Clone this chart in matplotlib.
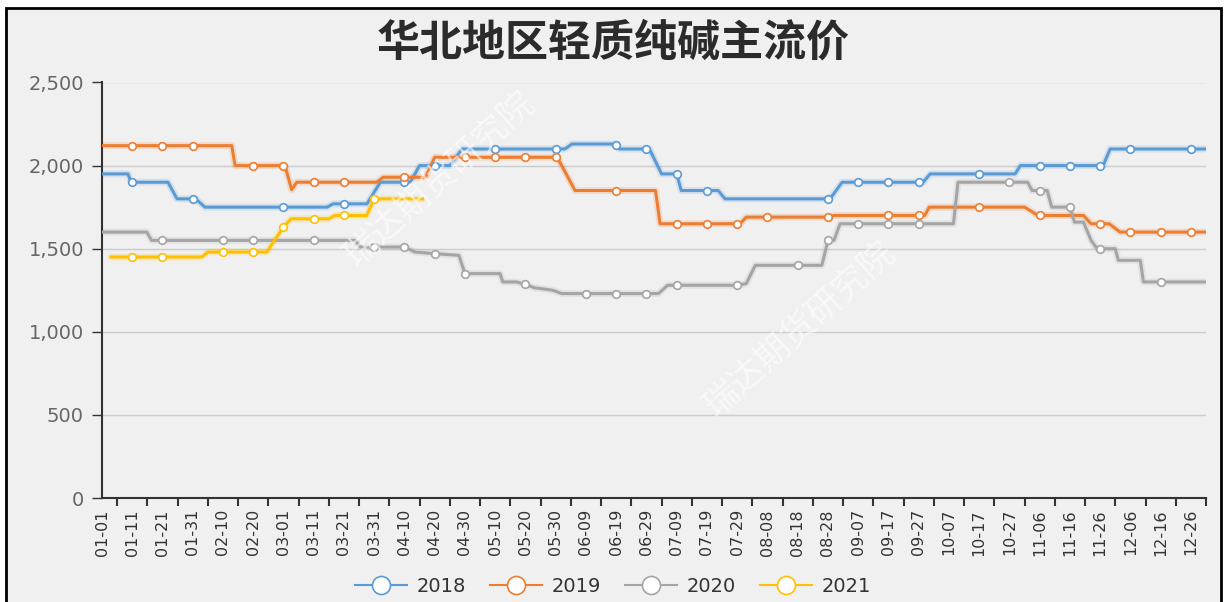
import matplotlib.pyplot as plt
from matplotlib.lines import Line2D
from matplotlib.ticker import FuncFormatter
import numpy as np
import datetime

plt.rcParams['font.family'] = ['Noto Sans CJK SC', 'DejaVu Sans']

# day-of-year index (leap-year calendar, 0 = 01-01) -> price, vertices of each line
days_2018 = [0, 8.6, 9.6, 21.8, 24.8, 31, 34, 74.4, 76.4, 87.6, 92, 101.9, 105, 115, 119, 153,
             155.4, 169.6, 171, 181, 185, 190, 191.5, 203.7, 206, 240.7, 244.7, 271.5, 273.8,
             301.9, 303.6, 331, 333.3, 365]
vals_2018 = [1950, 1950, 1900, 1900, 1800, 1800, 1750, 1750, 1770, 1770, 1900, 1900, 2000, 2000,
             2100, 2100, 2130, 2130, 2100, 2100, 1950, 1950, 1850, 1850, 1800, 1800, 1900, 1900,
             1950, 1950, 2000, 2000, 2100, 2100]
marks_2018 = [10, 30, 60, 80, 100, 110, 130, 150, 170, 180, 190, 200, 240, 250, 260, 270, 290,
              310, 320, 330, 340, 360]

days_2019 = [0, 42.9, 44, 60.5, 62.7, 64.4, 90.8, 93, 107, 110, 150.5, 156.4, 183, 184.5, 211,
             213, 240.7, 242, 272, 273.5, 305, 309.5, 324.5, 327, 333, 336.6, 365]
vals_2019 = [2120, 2120, 2000, 2000, 1855, 1900, 1900, 1930, 1930, 2050, 2050, 1850, 1850, 1650,
             1650, 1690, 1690, 1700, 1700, 1750, 1750, 1700, 1700, 1650, 1650, 1600, 1600]
marks_2019 = [10, 20, 30, 50, 60, 70, 80, 100, 120, 130, 140, 150, 170, 190, 200, 210, 220, 240,
              260, 270, 290, 310, 330, 340, 350, 360]

days_2020 = [0, 14.8, 16.4, 83.7, 85.4, 100, 103.5, 110, 118, 120, 131.6, 132.5, 137, 140, 143,
             149, 152, 184, 187, 210, 213, 216, 238, 240, 242, 244, 281.5, 283, 306, 307.5, 312.5,
             314, 320, 321.5, 324.5, 327, 329, 335, 336, 343.3, 344.3, 365]
vals_2020 = [1600, 1600, 1550, 1550, 1510, 1510, 1480, 1470, 1460, 1350, 1350, 1300, 1300, 1285,
             1265, 1250, 1230, 1230, 1280, 1280, 1290, 1400, 1400, 1550, 1550, 1650, 1650, 1900,
             1900, 1850, 1850, 1750, 1750, 1660, 1660, 1550, 1500, 1500, 1430, 1430, 1300, 1300]
marks_2020 = [20, 40, 50, 70, 90, 100, 110, 120, 140, 160, 170, 180, 190, 210, 230, 240, 250,
              260, 270, 300, 310, 320, 330, 350]

days_2021 = [3, 33, 35, 54.5, 57, 60, 62.5, 75, 77, 87.5, 90, 106]
vals_2021 = [1450, 1450, 1480, 1480, 1550, 1630, 1680, 1680, 1700, 1700, 1800, 1800]
marks_2021 = [10, 20, 40, 50, 60, 70, 80, 90]

series = [
    ("2018", days_2018, vals_2018, marks_2018, "#5b9bd5"),
    ("2019", days_2019, vals_2019, marks_2019, "#ed7d31"),
    ("2020", days_2020, vals_2020, marks_2020, "#a5a5a5"),
    ("2021", days_2021, vals_2021, marks_2021, "#ffc000"),
]

# category labels every 10 days
start = datetime.date(2020, 1, 1)
label_pos = list(range(0, 366, 10))
label_txt = [(start + datetime.timedelta(days=d)).strftime("%m-%d") for d in label_pos]

fig = plt.figure(figsize=(12.26, 6.02), dpi=100)
fig.patch.set_facecolor("white")
# grey card with black frame
fig.patches.append(plt.Rectangle((6 / 1226, -0.01), 1215 / 1226, 1 - 8 / 602 + 0.01,
                                 transform=fig.transFigure, facecolor="#f0f0f0",
                                 edgecolor="black", linewidth=2, zorder=-5))

ax = fig.add_axes([102 / 1226, 104 / 602, 1104 / 1226, 415.5 / 602])
ax.patch.set_alpha(0)

for name, d, v, m, c in series:
    ax.plot(d, v, color=c, lw=5, alpha=0.18, solid_capstyle="round", zorder=2)
    ax.plot(d, v, color=c, lw=2.2, zorder=3)
    my = np.interp(m, d, v)
    ax.plot(m, my, ls="none", marker="o", ms=5.5, mfc="white", mec=c, mew=1.2, zorder=4)

ax.set_xlim(0, 365)
ax.set_ylim(0, 2500)
ax.set_yticks(range(0, 2501, 500))
ax.yaxis.set_major_formatter(FuncFormatter(lambda x, p: f"{int(x):,}"))
ax.grid(axis="y", color="#cccccc", lw=1)
ax.set_axisbelow(True)

ax.set_xticks(label_pos)
ax.set_xticklabels(label_txt, rotation=90, fontsize=11.5, color="#333333",
                   family="DejaVu Sans")
ax.set_xticks([5 + 10 * k for k in range(37)], minor=True)
ax.tick_params(axis="x", which="major", length=0, pad=8)
ax.tick_params(axis="x", which="minor", length=6, width=1.5, color="#333333")
ax.tick_params(axis="y", length=7, width=1, color="#333333", labelsize=14, labelcolor="#666666",
               pad=6)
for t in ax.get_yticklabels():
    t.set_family("DejaVu Sans")

for s in ["top", "right"]:
    ax.spines[s].set_visible(False)
ax.spines["left"].set_color("#333333")
ax.spines["left"].set_linewidth(1.5)
ax.spines["bottom"].set_color("#333333")
ax.spines["bottom"].set_linewidth(1.5)

fig.text(0.5, 1 - 43 / 602, "华北地区轻质纯碱主流价", ha="center", va="center",
         fontsize=31, fontweight="bold", color="#2b2b2b")

# watermark
for wx, wy in [(440, 180), (800, 330)]:
    fig.text(wx / 1226, 1 - wy / 602, "瑞达期货研究院", ha="center", va="center", rotation=42,
             fontsize=25, color="white", alpha=0.6, zorder=5)

handles = [Line2D([0], [0], color=c, lw=1.5, marker="o", ms=13, mfc="white", mec=c, mew=1.2)
           for _, _, _, _, c in series]
fig.legend(handles, [s[0] for s in series], loc="center", bbox_to_anchor=(0.5, 1 - 586 / 602),
           ncol=4, frameon=False, handlelength=2.7, columnspacing=1.2,
           handletextpad=0.5, labelcolor="#333333", prop={"family": "DejaVu Sans", "size": 14})

fig.savefig("out.png", dpi=100, facecolor=fig.get_facecolor())
